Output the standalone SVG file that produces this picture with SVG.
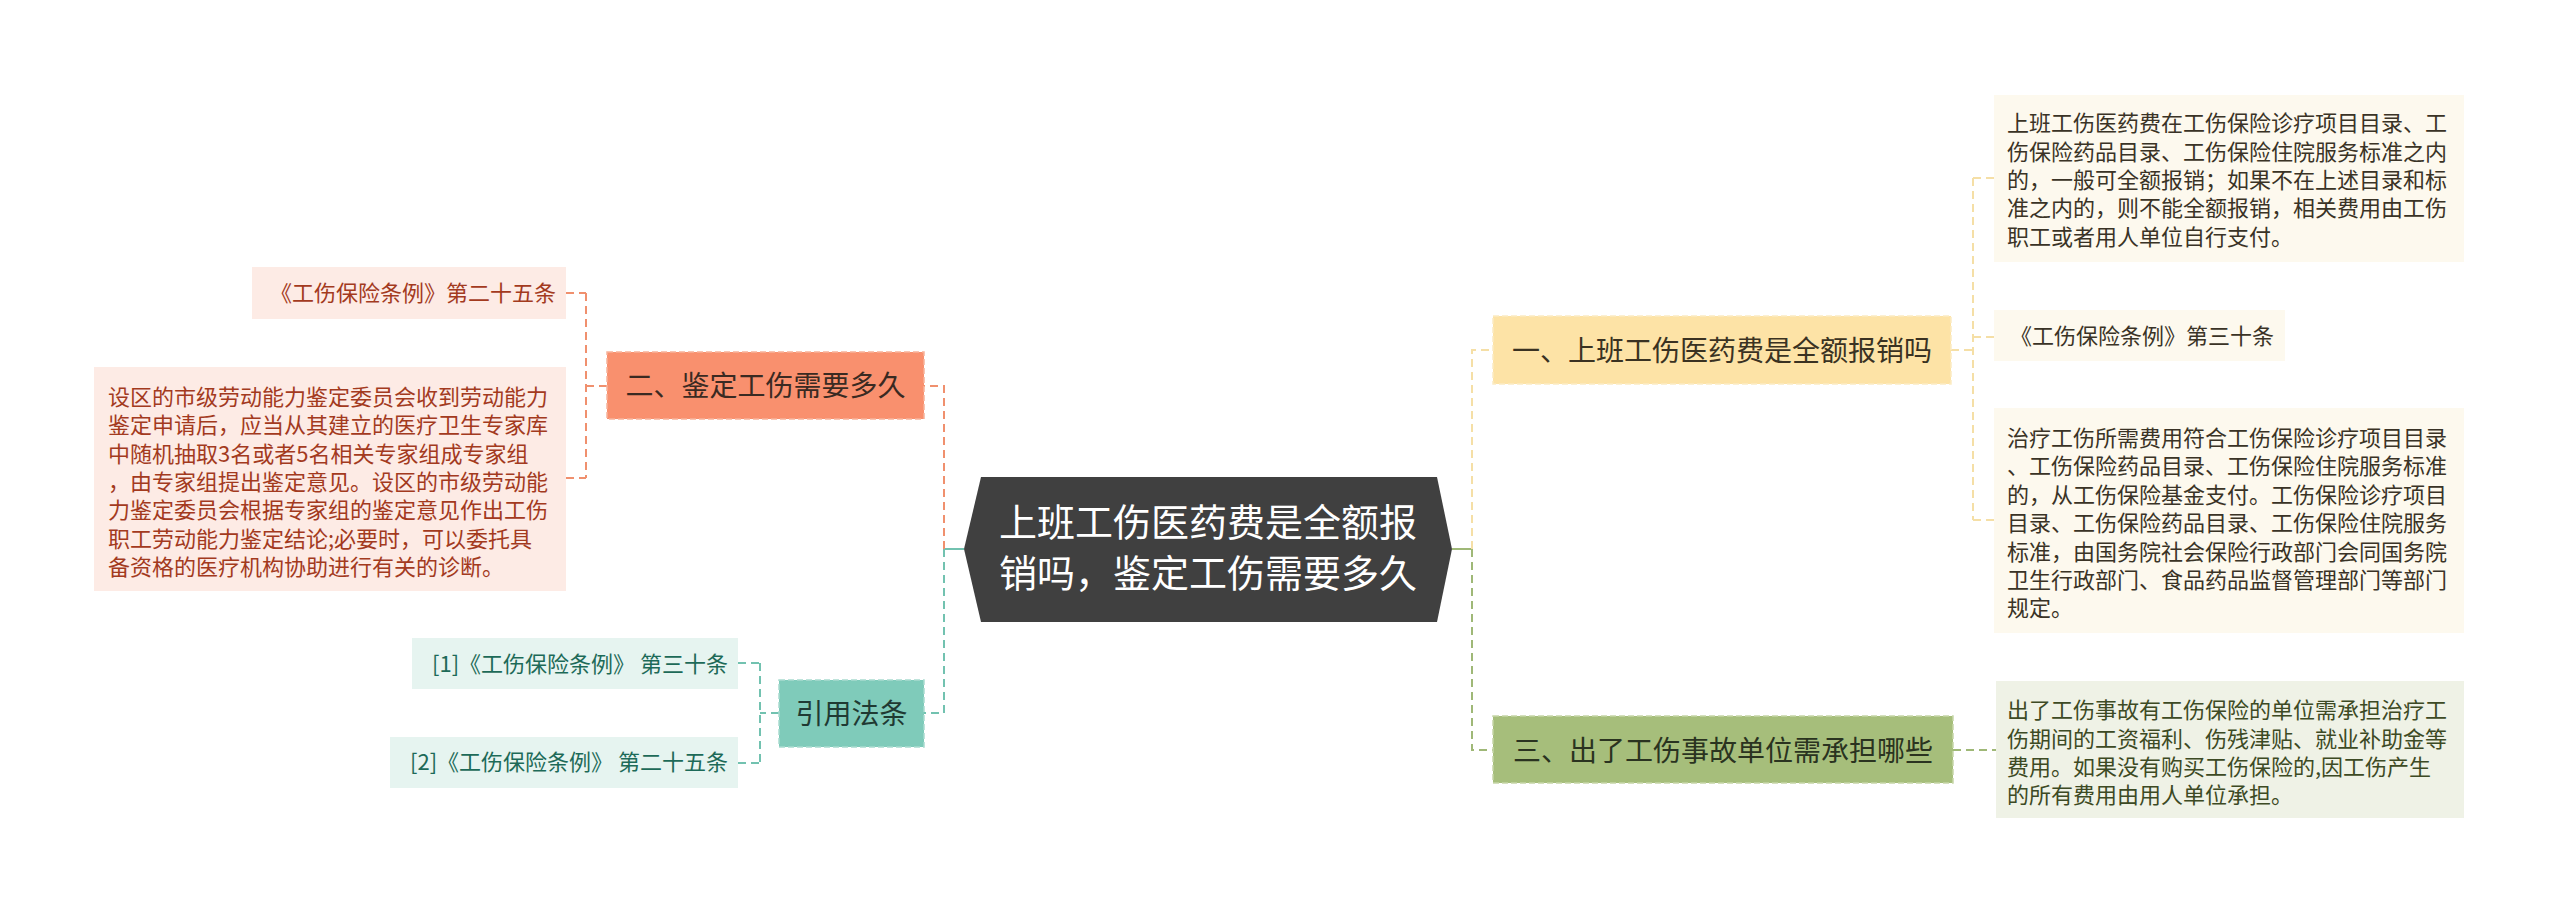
<svg xmlns="http://www.w3.org/2000/svg" width="2560" height="914" viewBox="0 0 2560 914">
<style>
text{font-family:"Noto Sans CJK SC","Noto Sans",sans-serif;}
.c{fill:none;stroke-width:2;stroke-dasharray:8 5;}
.or{stroke:#F0906E;}
.te{stroke:#72C2B0;}
.ye{stroke:#F5DFA6;}
.gr{stroke:#9FB877;}
.leaf{font-size:22px;}
.br{font-size:28px;text-anchor:middle;}
</style>
<rect width="2560" height="914" fill="#ffffff"/>
<g id="connectors">
<path d="M944,549 H964" stroke="#72C2B0" stroke-width="2" fill="none"/>
<path class="c or" d="M944,549 V386 H924"/>
<path class="c te" d="M944,549 V713 H924"/>
<path class="c or" d="M607,386 H586"/>
<path class="c or" d="M586,293 V478"/>
<path class="c or" d="M566,293 H586"/>
<path class="c or" d="M566,478 H586"/>
<path class="c te" d="M779,713 H760"/>
<path class="c te" d="M760,663 V763"/>
<path class="c te" d="M738,663 H760"/>
<path class="c te" d="M738,763 H760"/>
<path d="M1452,549 H1472" stroke="#9FB877" stroke-width="2" fill="none"/>
<path class="c ye" d="M1472,549 V350 H1493"/>
<path class="c gr" d="M1472,549 V750 H1493"/>
<path class="c ye" d="M1951,350 H1973"/>
<path class="c ye" d="M1973,178 V520"/>
<path class="c ye" d="M1973,178 H1994"/>
<path class="c ye" d="M1973,337 H1994"/>
<path class="c ye" d="M1973,520 H1994"/>
<path class="c gr" d="M1953,750 H1996"/>
</g>
<g id="root">
<polygon points="981,477 1437,477 1452,549 1437,622 981,622 964,549" fill="#404040"/>
<text x="1208" y="536" font-size="38" fill="#ffffff" text-anchor="middle">上班工伤医药费是全额报</text>
<text x="1208" y="587" font-size="38" fill="#ffffff" text-anchor="middle">销吗，鉴定工伤需要多久</text>
</g>
<g id="branch2">
<rect x="607" y="352" width="317" height="67" fill="#F9906E" stroke="#F7B29A" stroke-dasharray="6 3" stroke-width="1.5"/>
<text class="br" x="765.5" y="396" fill="#3A2A22">二、鉴定工伤需要多久</text>
</g>
<g id="leaf2a">
<rect x="252" y="267" width="314" height="52" fill="#FDEBE5"/>
<text class="leaf" x="556" y="301" fill="#A33A1E" text-anchor="end">《工伤保险条例》第二十五条</text>
</g>
<g id="leaf2b">
<rect x="94" y="367" width="472" height="224" fill="#FDEBE5"/>
<g class="leaf" fill="#A33A1E">
<text x="108" y="405">设区的市级劳动能力鉴定委员会收到劳动能力</text>
<text x="108" y="433.4">鉴定申请后，应当从其建立的医疗卫生专家库</text>
<text x="108" y="461.7">中随机抽取3名或者5名相关专家组成专家组</text>
<text x="108" y="490">，由专家组提出鉴定意见。设区的市级劳动能</text>
<text x="108" y="518.3">力鉴定委员会根据专家组的鉴定意见作出工伤</text>
<text x="108" y="546.6">职工劳动能力鉴定结论;必要时，可以委托具</text>
<text x="108" y="575">备资格的医疗机构协助进行有关的诊断。</text>
</g>
</g>
<g id="branch-ref">
<rect x="779" y="680" width="145" height="67" fill="#7FCBBA" stroke="#A9DCD0" stroke-dasharray="6 3" stroke-width="1.5"/>
<text class="br" x="851.5" y="724" fill="#1F3A33">引用法条</text>
</g>
<g id="ref1">
<rect x="412" y="638" width="326" height="51" fill="#E6F4F0"/>
<text class="leaf" x="728" y="672" fill="#1D6A58" text-anchor="end">[1]《工伤保险条例》 第三十条</text>
</g>
<g id="ref2">
<rect x="390" y="737" width="348" height="51" fill="#E6F4F0"/>
<text class="leaf" x="728" y="770" fill="#1D6A58" text-anchor="end">[2]《工伤保险条例》 第二十五条</text>
</g>
<g id="branch1">
<rect x="1493" y="316" width="458" height="68" fill="#FDE3A6" stroke="#FBEBC4" stroke-dasharray="6 3" stroke-width="1.5"/>
<text class="br" x="1722" y="361" fill="#3A3222">一、上班工伤医药费是全额报销吗</text>
</g>
<g id="leaf1a">
<rect x="1994" y="95" width="470" height="167" fill="#FDF9EE"/>
<g class="leaf" fill="#3A3326">
<text x="2007" y="131.2">上班工伤医药费在工伤保险诊疗项目目录、工</text>
<text x="2007" y="159.6">伤保险药品目录、工伤保险住院服务标准之内</text>
<text x="2007" y="188">的，一般可全额报销；如果不在上述目录和标</text>
<text x="2007" y="216.4">准之内的，则不能全额报销，相关费用由工伤</text>
<text x="2007" y="244.8">职工或者用人单位自行支付。</text>
</g>
</g>
<g id="leaf1b">
<rect x="1994" y="310" width="291" height="51" fill="#FDF9EE"/>
<text class="leaf" x="2010" y="344" fill="#3A3326">《工伤保险条例》第三十条</text>
</g>
<g id="leaf1c">
<rect x="1994" y="408" width="470" height="225" fill="#FDF9EE"/>
<g class="leaf" fill="#3A3326">
<text x="2007" y="446">治疗工伤所需费用符合工伤保险诊疗项目目录</text>
<text x="2007" y="474.4">、工伤保险药品目录、工伤保险住院服务标准</text>
<text x="2007" y="502.8">的，从工伤保险基金支付。工伤保险诊疗项目</text>
<text x="2007" y="531.2">目录、工伤保险药品目录、工伤保险住院服务</text>
<text x="2007" y="559.6">标准，由国务院社会保险行政部门会同国务院</text>
<text x="2007" y="588">卫生行政部门、食品药品监督管理部门等部门</text>
<text x="2007" y="616.4">规定。</text>
</g>
</g>
<g id="branch3">
<rect x="1493" y="716" width="460" height="67" fill="#A6BE7B" stroke="#C6D6A8" stroke-dasharray="6 3" stroke-width="1.5"/>
<text class="br" x="1723" y="761" fill="#2A3320">三、出了工伤事故单位需承担哪些</text>
</g>
<g id="leaf3">
<rect x="1996" y="681" width="468" height="137" fill="#EFF2E6"/>
<g class="leaf" fill="#3D4A24">
<text x="2007" y="718">出了工伤事故有工伤保险的单位需承担治疗工</text>
<text x="2007" y="746.5">伤期间的工资福利、伤残津贴、就业补助金等</text>
<text x="2007" y="775">费用。如果没有购买工伤保险的,因工伤产生</text>
<text x="2007" y="803">的所有费用由用人单位承担。</text>
</g>
</g>
</svg>
